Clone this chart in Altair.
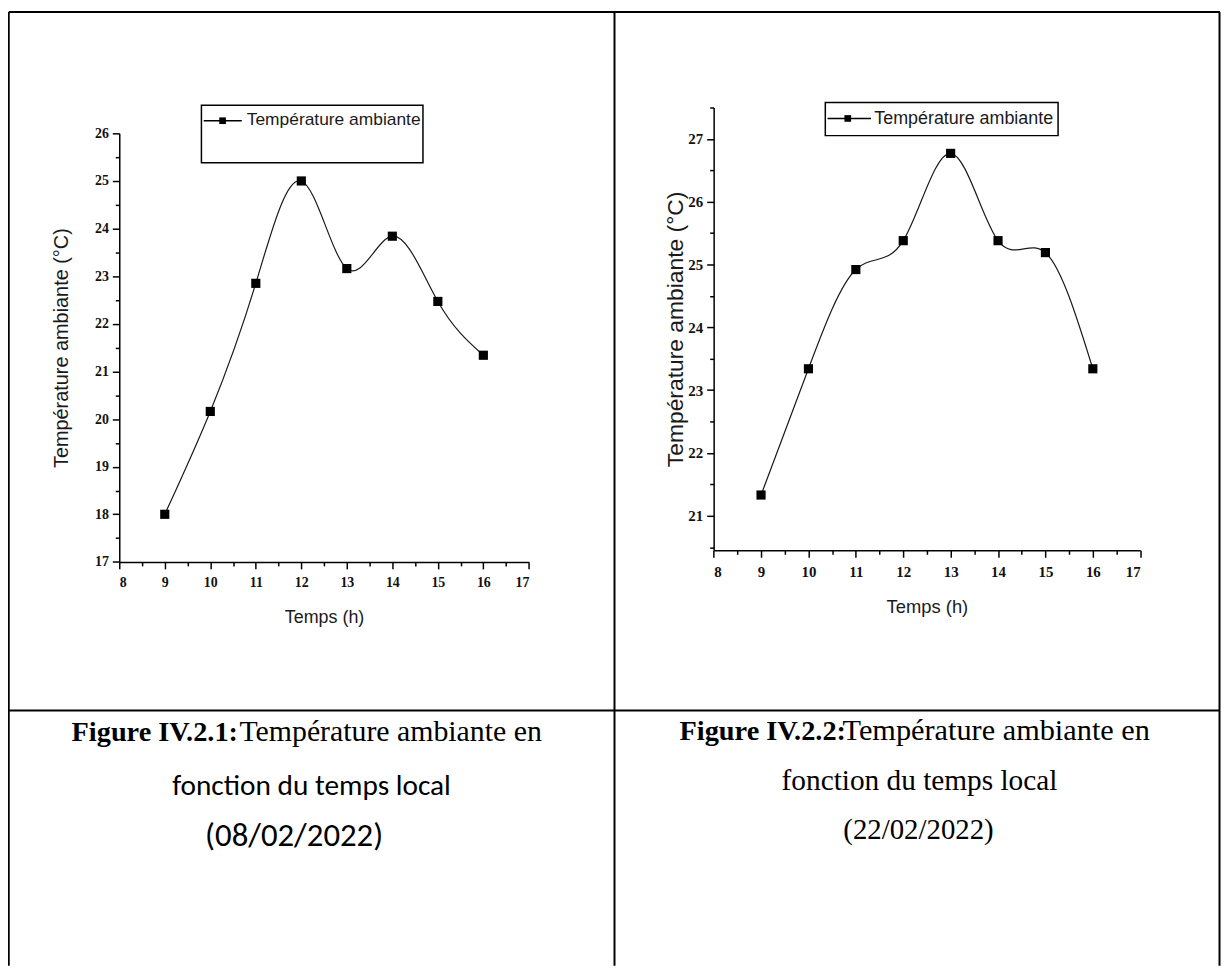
import altair as alt
import pandas as pd

# ---------------- data ----------------
hours = [9, 10, 11, 12, 13, 14, 15, 16]
temp_08_02 = [18.0, 20.16, 22.85, 25.0, 23.16, 23.84, 22.47, 21.34]
temp_22_02 = [21.33, 23.34, 24.92, 25.38, 26.77, 25.38, 25.19, 23.34]

x_ticks = [8, 9, 10, 11, 12, 13, 14, 15, 16, 17]
x_minor = [8.5, 9.5, 10.5, 11.5, 12.5, 13.5, 14.5, 15.5, 16.5]
y1_ticks = [17, 18, 19, 20, 21, 22, 23, 24, 25, 26]
y1_minor = [17.5, 18.5, 19.5, 20.5, 21.5, 22.5, 23.5, 24.5, 25.5]
y2_ticks = [21, 22, 23, 24, 25, 26, 27]
y2_minor = [20.5, 21.5, 22.5, 23.5, 24.5, 25.5, 26.5, 27.5]

series_name = "Température ambiante"
y_title = "Température ambiante (°C)"
x_title = "Temps (h)"

cap1_bold = "Figure IV.2.1:"
cap1_rest = "Température ambiante en"
cap1_l2 = "fonction du temps local"
cap1_l3 = "(08/02/2022)"
cap2_bold = "Figure IV.2.2:"
cap2_rest = "Température ambiante en"
cap2_l2 = "fonction du temps local"
cap2_l3 = "(22/02/2022)"

# ---------------- layout (page pixels) ----------------
OX, OY = 8, 8
W, H = 1221, 961
one = pd.DataFrame({"d": [0]})

SANS = "Liberation Sans"
SERIF = "Liberation Serif"
CALI = "Carlito, Lato"


def panel(temps, xr, yr, ydom, yticks, yminor, lab_fs, yt_fs, xt_fs,
          y_tpad, x_tpad):
    df = pd.DataFrame({"h": hours, "t": temps})
    base = alt.Chart(df)
    xs = alt.Scale(domain=[8, 17], range=[xr[0] - OX, xr[1] - OX],
                   nice=False, zero=False)
    ys = alt.Scale(domain=list(ydom), range=[yr[0] - OY, yr[1] - OY],
                   nice=False, zero=False)
    xoff = (yr[0] - OY) - H
    yoff = -(xr[0] - OX)
    common = dict(domainColor="black", domainWidth=1.5, tickColor="black",
                  tickWidth=1.5, grid=False)
    ax_x = alt.Axis(values=x_ticks, orient="bottom", offset=xoff, tickSize=7,
                    labelFont=SERIF, labelFontSize=lab_fs, labelColor="#111",
                    labelFontWeight="bold",
                    labelPadding=7, format="d", title=x_title,
                    titleFont=SANS, titleFontSize=xt_fs,
                    titleFontWeight="normal", titleColor="#1a1a1a",
                    titlePadding=x_tpad, **common)
    ax_y = alt.Axis(values=yticks, orient="left", offset=yoff, tickSize=7,
                    labelFont=SERIF, labelFontSize=lab_fs, labelColor="#111",
                    labelFontWeight="bold",
                    labelPadding=4, format="d", title=y_title,
                    titleFont=SANS, titleFontSize=yt_fs,
                    titleFontWeight="normal", titleColor="#1a1a1a",
                    titlePadding=y_tpad, **common)
    mx = alt.Axis(values=x_minor, orient="bottom", offset=xoff, tickSize=4,
                  labels=False, domain=False, tickColor="black", tickWidth=1.5,
                  grid=False)
    my = alt.Axis(values=yminor, orient="left", offset=yoff, tickSize=4,
                  labels=False, domain=False, tickColor="black", tickWidth=1.5,
                  grid=False)
    line = base.mark_line(interpolate="natural", color="#1a1a1a",
                          strokeWidth=1.2).encode(
        x=alt.X("h:Q", scale=xs, axis=ax_x),
        y=alt.Y("t:Q", scale=ys, axis=ax_y))
    pts = base.mark_point(shape="square", filled=True, size=85, color="black",
                          opacity=1).encode(
        x=alt.X("h:Q", scale=xs, axis=None),
        y=alt.Y("t:Q", scale=ys, axis=None))
    minor = base.mark_point(opacity=0).encode(
        x=alt.X("h:Q", scale=xs, axis=mx, title=None),
        y=alt.Y("t:Q", scale=ys, axis=my, title=None))
    return [line, pts, minor]


def rule(x1, y1, x2, y2, w=2.0):
    return alt.Chart(one).mark_rule(color="black", strokeWidth=w).encode(
        x=alt.value(x1 - OX), y=alt.value(y1 - OY),
        x2=alt.value(x2 - OX), y2=alt.value(y2 - OY))


def rect(x1, y1, x2, y2, w=1.5):
    return alt.Chart(one).mark_rect(fill="white", stroke="black",
                                    strokeWidth=w).encode(
        x=alt.value(x1 - OX), y=alt.value(y1 - OY),
        x2=alt.value(x2 - OX), y2=alt.value(y2 - OY))


def text(s, x, y, font, size, weight="normal", align="left",
         baseline="alphabetic", color="black"):
    return alt.Chart(one).mark_text(font=font, fontSize=size,
                                    fontWeight=weight, align=align,
                                    baseline=baseline, color=color).encode(
        x=alt.value(x - OX), y=alt.value(y - OY), text=alt.value(s))


def sq(x, y, size):
    return alt.Chart(one).mark_point(shape="square", filled=True, size=size,
                                     color="black", opacity=1).encode(
        x=alt.value(x - OX), y=alt.value(y - OY))


def legend(bx1, by1, bx2, by2, lx1, lx2, ly, sx, tx, ty, fs):
    return [rect(bx1, by1, bx2, by2),
            rule(lx1, ly, lx2, ly, 1.5),
            sq(sx, ly, 45),
            text(series_name, tx, ty, SANS, fs, baseline="middle",
                 color="#1a1a1a")]


layers = []
# table borders
layers += [rule(8.75, 8.75, 1228, 8.75),         # top
           rule(8.75, 8.75, 8.75, 969),           # left
           rule(618.5, 8.75, 618.5, 969),         # middle
           rule(1227.5, 8.75, 1227.5, 969),       # right
           rule(8.75, 712, 1228, 712)]            # divider

# legends
layers += legend(202.7, 102.7, 425.7, 160.7, 205, 243.3, 118.3, 224,
                 248.3, 117.5, 17.5)
layers += legend(830.7, 100, 1065, 133.3, 833, 876.7, 116, 853.3,
                 880, 117, 18)

# charts
layers += panel(temp_08_02, (120, 532.3), (562.4, 131.0), (17, 26),
                y1_ticks, y1_minor, 14, 20, 18, 23, 19)
layers += panel(temp_22_02, (718.3, 1147.7), (550.7, 105.0), (20.45, 27.5),
                y2_ticks, y2_minor, 15, 23, 18.5, 0, 19)

# captions
layers += [text(cap1_bold, 72, 743, SERIF, 28.5, weight="bold"),
           text(cap1_rest, 241, 743, SERIF, 30),
           text(cap1_l2, 313.5, 797, CALI, 29.5, align="center"),
           text(cap1_l3, 296, 848, CALI, 33, align="center"),
           text(cap2_bold, 684, 742, SERIF, 28.5, weight="bold"),
           text(cap2_rest, 848, 742, SERIF, 30.5),
           text(cap2_l2, 925.5, 792, SERIF, 29.5, align="center"),
           text(cap2_l3, 924.5, 841, SERIF, 29, align="center")]

chart = alt.layer(*layers).resolve_scale(
    x="independent", y="independent"
).properties(
    width=W, height=H, padding=0,
    autosize=alt.AutoSizeParams(type="none"),
    background="white",
).configure_view(strokeWidth=0)

chart.save("out.html", embed_options={"renderer": "svg", "actions": False})
